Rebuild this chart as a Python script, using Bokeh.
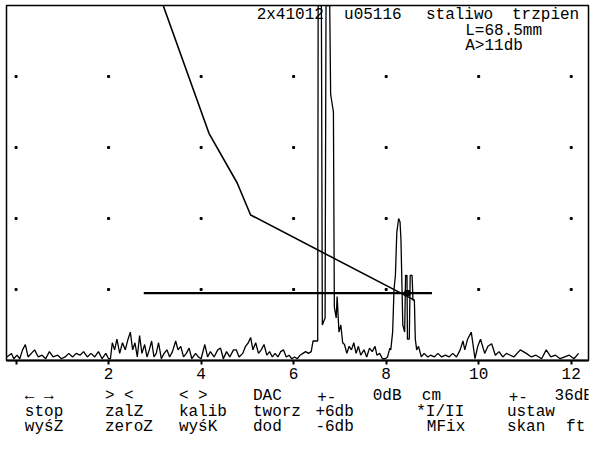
from bokeh.plotting import figure
from bokeh.models import FixedTicker, Range1d
from bokeh.layouts import column
from bokeh.embed import file_html
from bokeh.resources import INLINE
from bokeh.core.properties import value

# ---------------- data ----------------
# A-scan trace: distance (cm) and echo amplitude (% of screen height)
scan_x = [-0.2, -0.1, -0.05, 0.02, 0.08, 0.14, 0.2, 0.26, 0.33, 0.4, 0.48, 0.56, 0.64, 0.72, 0.8, 0.9,
          0.98, 1.06, 1.14, 1.22, 1.3, 1.38, 1.46, 1.54, 1.62, 1.7, 1.78, 1.86, 1.94, 2.0,
          2.04, 2.08, 2.13, 2.18, 2.24, 2.3, 2.36, 2.42, 2.47, 2.52, 2.57, 2.62, 2.67, 2.72, 2.78, 2.83,
          2.88, 2.93, 2.98, 3.03, 3.08, 3.14, 3.2, 3.26, 3.32, 3.38, 3.45, 3.5, 3.56, 3.62, 3.68, 3.74,
          3.8, 3.88, 3.94, 4.0, 4.08, 4.14, 4.2, 4.28, 4.36, 4.42, 4.48, 4.55, 4.62, 4.7, 4.76, 4.82,
          4.9, 4.96, 5.02, 5.07, 5.12, 5.18, 5.24, 5.3, 5.36, 5.42, 5.48, 5.54, 5.6, 5.66, 5.72, 5.78,
          5.84, 5.9, 5.96, 6.02, 6.08, 6.14, 6.2, 6.26, 6.32, 6.38, 6.42, 6.47,
          6.52, 6.53, 6.6, 6.62, 6.68, 6.7, 6.78, 6.8, 6.86, 6.88, 6.92, 6.94, 6.98, 7.02, 7.06, 7.1,
          7.15, 7.2, 7.25, 7.3, 7.35, 7.4, 7.45, 7.52, 7.58, 7.64, 7.7, 7.76, 7.8, 7.86, 7.92, 7.98,
          8.03, 8.08, 8.1, 8.14, 8.17, 8.2, 8.23, 8.27, 8.3, 8.32, 8.36, 8.4, 8.42, 8.45, 8.46, 8.5,
          8.52, 8.56, 8.58, 8.61, 8.63, 8.66, 8.7, 8.76, 8.82, 8.9, 8.96, 9.04, 9.12, 9.2, 9.28, 9.36,
          9.44, 9.52, 9.6, 9.66, 9.7, 9.76, 9.84, 9.92, 9.98, 10.04, 10.13, 10.2, 10.28, 10.36, 10.44,
          10.52, 10.6, 10.76, 10.9, 11.03, 11.14, 11.24, 11.36, 11.46, 11.56, 11.66, 11.76, 11.86,
          11.96, 12.06, 12.16, 12.24, 12.37]
scan_y = [1, 2, 0.5, 1.5, 0.5, 3, 4.5, 1, 2, 3, 1, 1.5, 0.5, 2.5, 1, 1.5,
          0.5, 1, 2, 1, 2, 1.5, 2.5, 1, 2, 1, 2.5, 0.5, 2, 0.5,
          0.5, 5, 3, 6, 2, 5, 3, 6, 8, 3, 5, 1, 7, 2, 4.5, 1,
          3, 5.5, 1, 2, 5, 0.5, 2, 3, 1, 2.5, 5.5, 3, 4, 1, 2, 3.5,
          0.5, 2, 1, 0.5, 4.5, 1, 2.5, 1, 3, 3.5, 0.5, 2.5, 1, 3, 3, 1,
          2, 4, 5, 6.5, 3, 5, 2, 3, 4.5, 1.5, 2.5, 1, 2, 1, 2.5, 3,
          1, 1.5, 0.5, 1, 0.5, 1.5, 2, 2.5, 2, 2.5, 5.5, 5.5,
          5.5, 100, 100, 10, 12, 100, 100, 75, 70, 15, 12, 18, 8, 10, 5, 4.5,
          2, 4, 3, 5, 2, 4, 1.5, 3, 1, 3.5, 2.5, 4, 1.5, 2, 0.5, 0.5,
          1, 3.5, 3, 8, 20, 24, 36, 40, 39, 34, 10, 8, 24, 24, 6, 6,
          24, 24, 17, 17, 6, 3, 4, 1, 2, 1, 1.5, 1, 2, 1, 1.5, 1,
          2, 1, 3, 5.5, 3, 6, 8, 0.5, 4, 6, 2, 4, 4.7, 1.5,
          2.5, 1, 2, 1, 3, 2, 1, 1.5, 0.5, 3, 1, 1.5,
          0.5, 1, 1.5, 0.5, 2]

# DAC curve
dac_x = [3.18, 4.17, 4.78, 5.07, 8.61]
dac_y = [100, 64, 50, 41, 17]

# gate
gate_x = [2.76, 8.99]
gate_y = [19, 19]
echo_mark_x = [8.46]
echo_mark_y = [19]

x_ticks = [0, 2, 4, 6, 8, 10, 12]
x_tick_labels = ["", "2", "4", "6", "8", "10", "12"]
grid_levels = [20, 40, 60, 80]

header_text = ["2x41012", "u05116", "staliwo", "trzpien", "L=68.5mm", "A>11db"]
header_x = [5.2, 7.09, 8.86, 10.72, 9.71, 9.71]
header_y = [97.3, 97.3, 97.3, 97.3, 92.8, 88.6]

# soft-key menu: (text, column position in cm, row)
menu_text = ["\u2190 \u2192", "> <", "< >", "DAC", "+-", "0dB", "cm", "+-", "36dB",
             "stop", "zalZ", "kalib", "tworz", "+6db", "*I/II", "ustaw",
             "wy\u015bZ", "zeroZ", "wy\u015bK", "dod", "-6db", "MFix", "skan", "ft"]
menu_x = [0.19, 1.92, 3.52, 5.12, 6.51, 7.71, 8.77, 10.65, 11.64,
          0.19, 1.92, 3.52, 5.12, 6.47, 8.65, 10.61,
          0.19, 1.92, 3.52, 5.12, 6.47, 8.88, 10.61, 11.89]
menu_row = [3, 3, 3, 3, 3, 3, 3, 3, 3,
            2, 2, 2, 2, 2, 2, 2,
            1, 1, 1, 1, 1, 1, 1, 1]

FONT = "Liberation Mono"
FSIZE = "16px"

# ---------------- main screen ----------------
xr = Range1d(-0.207, 12.374)
p = figure(frame_width=582, frame_height=355, output_backend="svg", toolbar_location=None,
           x_range=xr, y_range=Range1d(0, 100),
           min_border_left=6, min_border_right=5, min_border_top=5, min_border_bottom=24)
p.background_fill_color = "white"
p.border_fill_color = "white"
p.outline_line_color = "black"
p.outline_line_width = 1.5
p.grid.visible = False
p.yaxis.visible = False

ax = p.xaxis[0]
ax.ticker = FixedTicker(ticks=x_ticks)
ax.major_label_overrides = {t: l for t, l in zip(x_ticks, x_tick_labels)}
ax.axis_line_width = 2
ax.axis_line_color = "black"
ax.major_tick_in = 0
ax.major_tick_out = 4
ax.major_tick_line_width = 2
ax.minor_tick_line_color = None
ax.major_label_text_font = FONT
ax.major_label_text_font_size = FSIZE
ax.major_label_text_color = "black"
ax.major_label_standoff = 3

# grid dots
gx = [x for x in x_ticks for _ in grid_levels]
gy = [y for _ in x_ticks for y in grid_levels]
p.scatter(gx, gy, marker="square", size=2, color="black")

# header texts
p.text(x=header_x, y=header_y, text=header_text, text_font=value(FONT),
       text_font_size=FSIZE, text_baseline="middle", text_color="black")

# DAC, gate, trace
p.line(dac_x, dac_y, line_color="black", line_width=1.6)
p.line(gate_x, gate_y, line_color="black", line_width=2.2)
p.line(scan_x, scan_y, line_color="black", line_width=1.3)
p.scatter(echo_mark_x, echo_mark_y, marker="square", size=5, color="black")

# ---------------- soft-key menu ----------------
m = figure(width=593, height=60, output_backend="svg", toolbar_location=None,
           x_range=xr, y_range=Range1d(-0.136, 3.76),
           min_border_left=6, min_border_right=5, min_border_top=0, min_border_bottom=0)
m.outline_line_color = None
m.axis.visible = False
m.grid.visible = False
m.background_fill_color = "white"
m.border_fill_color = "white"
m.text(x=menu_x, y=menu_row, text=menu_text, text_font=value(FONT), text_font_size=FSIZE,
       text_baseline="middle", text_color="black")

layout = column(p, m, spacing=0)
open("out.html", "w").write(file_html(layout, INLINE))
